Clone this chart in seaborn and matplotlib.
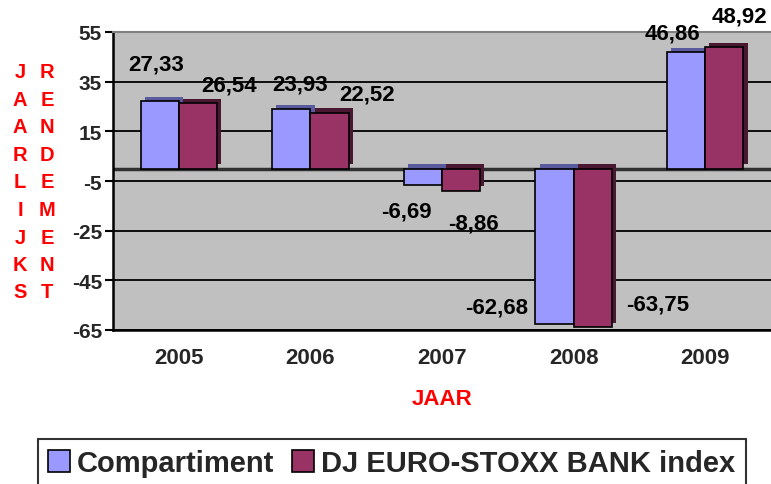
"""
Jaarlijks rendement: Compartiment vs DJ EURO-STOXX BANK index (2005-2009).
Excel-style grouped bar chart rebuilt with seaborn.
"""

import matplotlib
matplotlib.use("Agg")
import matplotlib.pyplot as plt
import matplotlib.patheffects as pe
from matplotlib.patches import Patch
import seaborn as sns
import pandas as pd

# data
years = ["2005", "2006", "2007", "2008", "2009"]
compartiment = [27.33, 23.93, -6.69, -62.68, 46.86]
dj_bank = [26.54, 22.52, -8.86, -63.75, 48.92]
series_names = ["Compartiment", "DJ EURO-STOXX BANK index"]
y_ticks = [-65, -45, -25, -5, 15, 35, 55]
ylabel_left = "JAARLIJKS"
ylabel_right = "RENDEMENT"

# styling
bar_colors = ["#9999FF", "#993366"]
side_colors = ["#5a5a9e", "#4a1830"]
# label offsets in pixels from bar end (Excel placed them rather freely)
label_offsets = [
    [(-4, 37), (9, 25), (-16, -26), (-58, 17), (-14, 19)],
    [(31, 18), (38, 19), (12, -32), (65, 23), (15, 31)],
]

sns.set_style("white")
plt.rcParams["font.family"] = ["Liberation Sans", "DejaVu Sans"]
plt.rcParams["font.weight"] = "bold"

df = pd.DataFrame({
    "year": years * 2,
    "value": compartiment + dj_bank,
    "series": [series_names[0]] * len(years) + [series_names[1]] * len(years),
})

fig = plt.figure(figsize=(7.71, 4.85), dpi=100)
ax = fig.add_axes([113 / 771, 1 - 331 / 485, 1 - 113 / 771, (331 - 33) / 485])
ax.set_facecolor("#C0C0C0")

sns.barplot(data=df, x="year", y="value", hue="series", palette=bar_colors,
            saturation=1, width=0.58, gap=0, edgecolor="black", linewidth=1.2,
            legend=False, ax=ax, zorder=3)

# fake 3D depth on the bars + data labels
for s, cont in enumerate(ax.containers):
    vals = compartiment if s == 0 else dj_bank
    for i, bar in enumerate(cont.patches):
        bar.set_path_effects([
            pe.SimplePatchShadow(offset=(3, 3), shadow_rgbFace=side_colors[s], alpha=1.0),
            pe.Normal(),
        ])
        xc = bar.get_x() + bar.get_width() / 2
        ax.annotate(f"{vals[i]:.2f}".replace(".", ","), (xc, vals[i]),
                    xytext=label_offsets[s][i], textcoords="offset pixels",
                    ha="center", va="center", fontsize=16, fontweight="bold",
                    color="black", zorder=5, annotation_clip=False)

ax.set_ylim(-65, 55)
ax.set_xlim(-0.5, len(years) - 0.5)
ax.set_yticks(y_ticks)
ax.set_yticklabels([str(v) for v in y_ticks], fontsize=15, fontweight="bold")
ax.yaxis.grid(True, color="black", linewidth=1.3)
ax.set_axisbelow(True)
ax.axhline(0, color="#303030", linewidth=2.5, zorder=2)

ax.set_xticks(range(len(years)))
ax.set_xticklabels(years, fontsize=16, fontweight="bold")
ax.set_xticks([i - 0.5 for i in range(len(years) + 1)], minor=True)
ax.tick_params(axis="x", which="major", length=0, pad=12)
ax.tick_params(axis="x", which="minor", length=6, width=1.5, direction="out", color="black")
ax.tick_params(axis="y", length=6, width=1.5, direction="out", color="black", pad=2, left=True)

ax.set_xlabel("JAAR", color="red", fontsize=16, fontweight="bold", labelpad=15)
ax.set_ylabel("")

for side in ["left", "bottom"]:
    ax.spines[side].set_color("black")
    ax.spines[side].set_linewidth(1.8)
ax.spines["top"].set_color("#808080")
ax.spines["top"].set_linewidth(1.5)
ax.spines["right"].set_visible(False)

# stacked vertical y-axis title, two columns of letters
for col_x, word in [(20, ylabel_left), (47, ylabel_right)]:
    for k, ch in enumerate(word):
        fig.text(col_x / 771, 1 - (73 + 27.5 * k) / 485, ch, color="red",
                 fontsize=14.5, fontweight="bold", ha="center", va="center")

handles = [Patch(facecolor=c, edgecolor="black", linewidth=1.2) for c in bar_colors]
leg = fig.legend(handles, series_names, loc="upper center", ncol=2,
                 bbox_to_anchor=(0.508, 1 - 440 / 485), fontsize=21,
                 frameon=True, fancybox=False, edgecolor="black",
                 handlelength=0.75, handleheight=0.75, handletextpad=0.25,
                 columnspacing=0.6, borderpad=0.35, borderaxespad=0)
leg.get_frame().set_linewidth(1.5)
for t in leg.get_texts():
    t.set_fontweight("bold")

fig.savefig("out.png", dpi=100)
plt.close(fig)
